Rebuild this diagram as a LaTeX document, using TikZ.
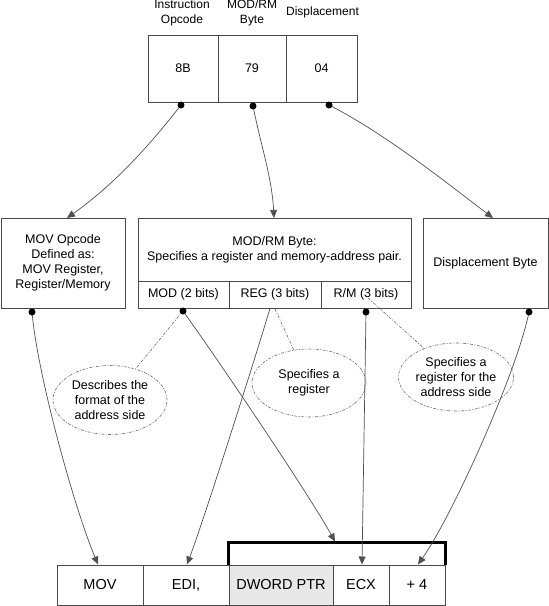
\documentclass[tikz,border=0pt]{standalone}
\usepackage{fontspec}
\setmainfont{Liberation Sans}
\usetikzlibrary{arrows.meta,shapes.geometric}
\definecolor{boxc}{HTML}{4A4A4A}
\definecolor{arrc}{HTML}{505050}
\definecolor{dashc}{HTML}{6A6A6A}
\definecolor{cellgray}{HTML}{E8E8E8}
\begin{document}
\begin{tikzpicture}[x=1pt,y=-1pt,
  lbl/.style={inner sep=0pt,align=center,font=\fontsize{12}{15}\selectfont},
  box/.style={draw=boxc,line width=0.9pt,rectangle,inner sep=0pt,align=center,font=\fontsize{12.5}{15}\selectfont},
  cellb/.style={draw=boxc,line width=0.9pt,rectangle,inner sep=0pt,align=center,font=\fontsize{14.5}{17}\selectfont,minimum height=40pt},
  note/.style={draw=dashc,line width=0.6pt,dash pattern=on 3pt off 1.5pt on 1pt off 1.5pt,ellipse,inner sep=0pt,align=center,font=\fontsize{12.5}{15}\selectfont},
  noteline/.style={draw=dashc,line width=0.6pt,dash pattern=on 3pt off 1.5pt on 1pt off 1.5pt},
  arr/.style={draw=arrc,line width=0.7pt,-{Triangle[length=8pt,width=7pt]}},
  bracket/.style={draw=black,line width=3pt},
  dot/.style={fill=black}]
\useasboundingbox (0,0) rectangle (549,606);

% top labels
\node[lbl] (l1) at (182,12.5) {Instruction\\Opcode};
\node[lbl] (l2) at (252,12.5) {MOD/RM\\Byte};
\node[lbl] (l3) at (322.5,12.5) {Displacement};

% top cells
\node[box,minimum width=70pt,minimum height=67pt] (c8b) at (183,68.5) {8B};
\node[box,minimum width=68pt,minimum height=67pt] (c79) at (252,68.5) {79};
\node[box,minimum width=71pt,minimum height=67pt] (c04) at (321.5,68.5) {04};

% middle boxes
\node[box,minimum width=124pt,minimum height=90pt] (movbox) at (63,263) {MOV Opcode\\Defined as:\\MOV Register,\\Register/Memory};
\node[box,minimum width=273pt,minimum height=63pt] (modtop) at (274.5,249.5) {MOD/RM Byte:\\Specifies a register and memory-address pair.};
\node[box,minimum width=91pt,minimum height=27pt] (mod) at (183.5,294.5) {MOD (2 bits)};
\node[box,minimum width=92pt,minimum height=27pt] (reg) at (275,294.5) {REG (3 bits)};
\node[box,minimum width=90pt,minimum height=27pt] (rm) at (366,294.5) {R/M (3 bits)};
\node[box,minimum width=125pt,minimum height=90pt] (dispbox) at (485.5,263) {Displacement Byte};

% notes
\node[note,minimum width=114pt,minimum height=69pt] (e1) at (110,400) {Describes the\\format of the\\address side};
\node[note,minimum width=114pt,minimum height=68pt] (e2) at (309,383) {Specifies a\\register};
\node[note,minimum width=115pt,minimum height=68pt] (e3) at (456,377) {Specifies a\\register for the\\address side};

% bottom cells
\node[cellb,minimum width=86pt] (mov) at (100,585) {MOV};
\node[cellb,minimum width=86pt] (edi) at (186,585) {EDI,};
\node[cellb,minimum width=104pt,fill=cellgray] (dword) at (281,585) {DWORD PTR};
\node[cellb,minimum width=56pt] (ecx) at (361,585) {ECX};
\node[cellb,minimum width=56pt] (plus4) at (417,585) {+ 4};
\draw[bracket] (dword.north west) -- ++(0,-22) -| (plus4.north east);

% connector points
\coordinate (d8b) at (181,105);
\coordinate (d79) at (253,106);
\coordinate (d04) at (329,105);
\coordinate (dmovb) at (32,312);
\coordinate (dmod) at (183,311);
\coordinate (drm) at (366,312);
\coordinate (ddisp) at (529,312);
\coordinate (regA) at (270,308.5);
\coordinate (regB) at (275,309);
\coordinate (rmA) at (368,298);
\coordinate (t1) at (67,218);
\coordinate (t2) at (274,218);
\coordinate (t3) at (493,218);
\coordinate (b1) at (98,564.5);
\coordinate (b2) at (187,564.5);
\coordinate (b3) at (335,541.5);
\coordinate (b4) at (362,564.5);
\coordinate (b5) at (418,564.5);

% note lines
\draw[noteline] (dmod) -- (e1);
\draw[noteline] (regB) -- (e2);
\draw[noteline] (rmA) -- (e3);

% arrows top -> middle
\draw[arr] (d8b) .. controls +(-35,45) and +(45,-32) .. (t1);
\draw[arr] (d79) .. controls +(8,40) and +(-2,-40) .. (t2);
\draw[arr] (d04) .. controls +(55,28) and +(-50,-38) .. (t3);

% arrows middle -> bottom
\draw[arr] (dmovb) .. controls +(5,60) and +(-25,-60) .. (b1);
\draw[arr] (regA) .. controls +(-15,50) and +(18,-48) .. (b2);
\draw[arr] (dmod) .. controls +(45,63) and +(-25,-45) .. (b3);
\draw[arr] (drm) -- (b4);
\draw[arr] (ddisp) .. controls +(-12,60) and +(35,-50) .. (b5);

% dots
\foreach \p in {d8b,d79,d04,dmovb,dmod,drm,ddisp}
  \fill[dot] (\p) circle (3.5);
\end{tikzpicture}
\end{document}
